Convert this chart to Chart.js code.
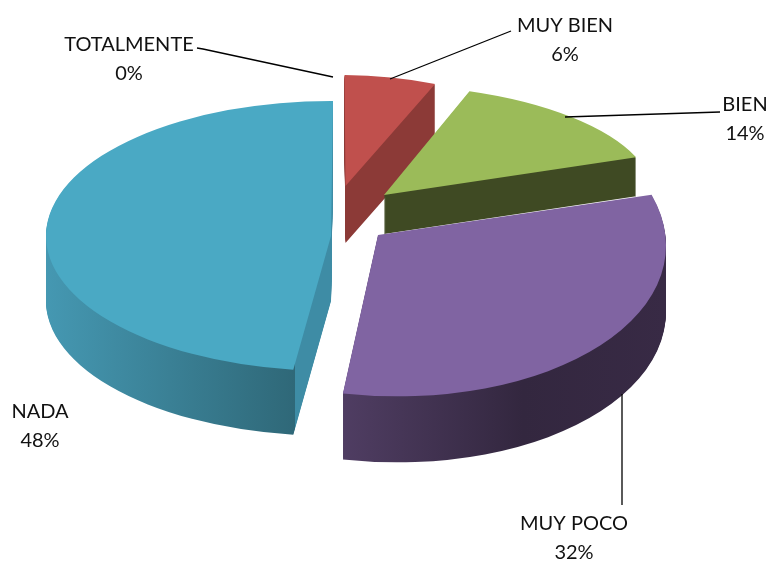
<!DOCTYPE html>
<html>
<head>
<meta charset="utf-8">
<style>
  html, body { margin: 0; padding: 0; background: #fff; }
  canvas { display: block; }
</style>
<script src="https://cdn.jsdelivr.net/npm/chart.js@4/dist/chart.umd.min.js"></script>
</head>
<body>
<canvas id="grafica" width="770" height="562"></canvas>
<script>
const categories = ['TOTALMENTE', 'MUY BIEN', 'BIEN', 'MUY POCO', 'NADA'];
const values = [0, 6, 14, 32, 48];
const colors = ['#4f81bd', '#c0504d', '#9bbb59', '#8064a2', '#4aa9c4'];

// fake 3D: each slice gets its own apex, x/y axis vectors and wall depth
const slices = [
  null,
  { apex: [345.5, 186], u: [246, 3], v: [1, 111], depth: 57, wall: [[0, '#8c3a37'], [1, '#8c3a37']] },
  { apex: [384, 195], u: [270, -4], v: [15, 110], depth: 39, wall: [[0, '#3f4a23'], [1, '#3f4a23']] },
  { apex: [378, 235], u: [288, 10], v: [1, 161], depth: 66, wall: [[0, '#4f3d62'], [0.44, '#4f3d62'], [0.75, '#33273f'], [1, '#382a45']] },
  { apex: [331, 236], u: [285, 1], v: [-2, 135], depth: 65, wall: [[0, '#4598b2'], [0.44, '#2f6878'], [0.44, '#3e8ca5'], [1, '#3e8ca5']] }
];

const labelPos = [[129, 45], [565, 26], [745, 105], [574, 524], [40, 412]];
const leaders = [
  [[197, 48], [203, 49], [333, 77]],
  [[511, 31], [390, 79]],
  [[720, 112], [565, 117]],
  [[622, 394], [622, 505]],
  null
];

const pie3d = {
  id: 'pie3d',
  beforeDatasetsDraw(chart) {
    const ctx = chart.ctx;
    const arcs = chart.getDatasetMeta(0).data;
    arcs.forEach((arc, i) => {
      const s = slices[i];
      if (!s || arc.circumference === 0) return;
      const r = arc.outerRadius;
      const place = (dy) => {
        ctx.setTransform(s.u[0] / r, s.u[1] / r, s.v[0] / r, s.v[1] / r, s.apex[0], s.apex[1] + dy);
        ctx.translate(-arc.x, -arc.y);
      };
      const base = arc.options;
      ctx.save();
      place(0);
      const grad = ctx.createLinearGradient(arc.x - r, 0, arc.x + r, 0);
      s.wall.forEach(st => grad.addColorStop(st[0], st[1]));
      arc.options = Object.assign({}, base, { backgroundColor: grad });
      for (let dy = s.depth; dy > 0; dy--) {
        place(dy);
        arc.draw(ctx);
      }
      arc.options = base;
      place(0);
      arc.draw(ctx);
      ctx.restore();
    });
    return false;
  },
  afterDraw(chart) {
    const ctx = chart.ctx;
    ctx.save();
    ctx.strokeStyle = '#000';
    ctx.lineWidth = 1.3;
    leaders.forEach(pts => {
      if (!pts) return;
      ctx.beginPath();
      pts.forEach((p, k) => k ? ctx.lineTo(p[0], p[1]) : ctx.moveTo(p[0], p[1]));
      ctx.stroke();
    });
    ctx.fillStyle = '#111';
    ctx.font = '20px Lato';
    ctx.textAlign = 'center';
    ctx.textBaseline = 'middle';
    categories.forEach((name, i) => {
      ctx.fillText(name, labelPos[i][0], labelPos[i][1]);
      ctx.fillText(values[i] + '%', labelPos[i][0], labelPos[i][1] + 28.5);
    });
    ctx.restore();
  }
};

new Chart(document.querySelector('#grafica'), {
  type: 'pie',
  data: {
    labels: categories,
    datasets: [{ data: values, backgroundColor: colors, borderWidth: 0 }]
  },
  options: {
    responsive: false,
    animation: false,
    radius: 200,
    layout: { padding: 0 },
    plugins: { legend: { display: false }, tooltip: { enabled: false } }
  },
  plugins: [pie3d]
});
</script>
</body>
</html>
